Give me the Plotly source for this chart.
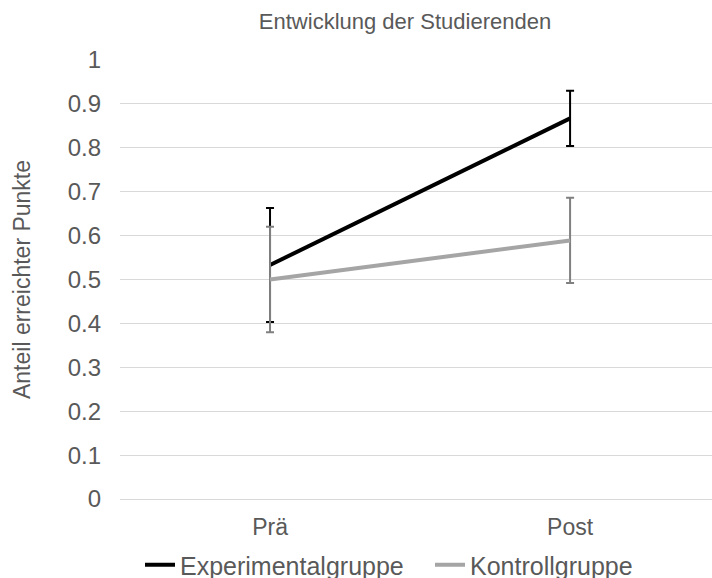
import plotly.graph_objects as go

# Messzeitpunkte und Mittelwerte (Anteil erreichter Punkte) je Gruppe
zeitpunkte = ["Prä", "Post"]
experimental_mittel = [0.533, 0.867]
experimental_fehler = [0.130, 0.063]
kontroll_mittel = [0.500, 0.589]
kontroll_fehler = [0.120, 0.097]
y_ticks = [0, 0.1, 0.2, 0.3, 0.4, 0.5, 0.6, 0.7, 0.8, 0.9, 1]

FONT = "Liberation Sans, Arial, sans-serif"
TEXT = "#595959"

fig = go.Figure()
fig.add_trace(go.Scatter(
    x=zeitpunkte, y=experimental_mittel, name="Experimentalgruppe",
    mode="lines", line=dict(color="#000000", width=4),
    error_y=dict(type="data", array=experimental_fehler, visible=True,
                 color="#000000", thickness=2, width=4),
))
fig.add_trace(go.Scatter(
    x=zeitpunkte, y=kontroll_mittel, name="Kontrollgruppe",
    mode="lines", line=dict(color="#a5a5a5", width=4),
    error_y=dict(type="data", array=kontroll_fehler, visible=True,
                 color="#808080", thickness=2, width=4),
))

fig.update_layout(
    width=712, height=578,
    margin=dict(l=120, r=0, t=60, b=79),
    paper_bgcolor="white", plot_bgcolor="white",
    font=dict(family=FONT, color=TEXT, size=23),
    title=dict(text="Entwicklung der Studierenden", x=405 / 712, xref="container",
               xanchor="center", y=1 - 21 / 578, yref="container", yanchor="middle",
               font=dict(size=22, color=TEXT)),
    showlegend=True,
    legend=dict(orientation="h", x=140 / 712, xref="container", xanchor="left",
                y=13 / 578, yref="container", yanchor="middle",
                font=dict(size=25, color=TEXT), itemwidth=30,
                entrywidth=245, entrywidthmode="pixels"),
    xaxis=dict(type="category", categoryorder="array", categoryarray=zeitpunkte,
               range=[-0.5, 1.473], showgrid=False, zeroline=False, showline=False,
               ticks="", ticklabelstandoff=12, tickfont=dict(size=23, color=TEXT)),
    yaxis=dict(range=[0, 1], tickvals=y_ticks, ticktext=[f"{v:g}" for v in y_ticks],
               showgrid=True, gridcolor="#d9d9d9", gridwidth=1,
               zeroline=True, zerolinecolor="#d9d9d9", zerolinewidth=1,
               showline=False, ticks="", ticklabelstandoff=18,
               tickfont=dict(size=24, color=TEXT),
               title=dict(text="Anteil erreichter Punkte", standoff=30,
                          font=dict(size=23, color=TEXT))),
)

fig.write_html("out.html")
